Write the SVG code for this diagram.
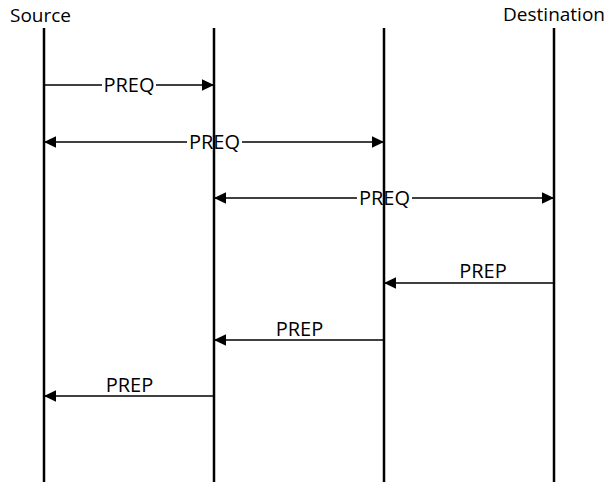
<svg xmlns="http://www.w3.org/2000/svg" width="611" height="482" viewBox="0 0 611 482">
<style>
.life{stroke:#000;stroke-width:2.5;fill:none}
.msg{stroke:#000;stroke-width:1.3;fill:none}
.hdr{font-family:"Open Sans","Liberation Sans",sans-serif;font-size:19px;fill:#000}
.lbl{font-family:"Open Sans","Liberation Sans",sans-serif;font-size:20px;fill:#000;text-anchor:middle}
.bg{fill:#fff}
</style>
<defs>
<marker id="ah" markerUnits="userSpaceOnUse" markerWidth="13" markerHeight="12" refX="12" refY="6" orient="auto-start-reverse" viewBox="0 0 13 12">
<path d="M0,0.2 L12,6 L0,11.8 Z" fill="#000"/>
</marker>
</defs>
<rect width="611" height="482" fill="#fff"/>
<g id="connectors">
<g id="m1"><line class="msg" x1="44" y1="85" x2="214" y2="85" marker-end="url(#ah)"/><rect class="bg" x="102" y="74" width="54" height="22"/><text class="lbl" x="129" y="92">PREQ</text></g>
<g id="m2"><line class="msg" x1="44" y1="142" x2="384" y2="142" marker-start="url(#ah)" marker-end="url(#ah)"/><rect class="bg" x="187" y="131" width="55" height="22"/><text class="lbl" x="214.5" y="149">PREQ</text></g>
<g id="m3"><line class="msg" x1="214" y1="198" x2="554" y2="198" marker-start="url(#ah)" marker-end="url(#ah)"/><rect class="bg" x="357" y="187" width="55" height="22"/><text class="lbl" x="384.5" y="205">PREQ</text></g>
<g id="m4"><line class="msg" x1="554" y1="283" x2="384" y2="283" marker-end="url(#ah)"/><text class="lbl" x="483" y="278">PREP</text></g>
<g id="m5"><line class="msg" x1="384" y1="340" x2="214" y2="340" marker-end="url(#ah)"/><text class="lbl" x="299.5" y="335.5">PREP</text></g>
<g id="m6"><line class="msg" x1="214" y1="396" x2="44" y2="396" marker-end="url(#ah)"/><text class="lbl" x="129.5" y="391.5">PREP</text></g>
</g>
<g id="source"><text class="hdr" x="10" y="22">Source</text><line class="life" x1="44" y1="28" x2="44" y2="482"/></g>
<g id="relay1"><line class="life" x1="214" y1="28" x2="214" y2="482"/></g>
<g id="relay2"><line class="life" x1="384" y1="28" x2="384" y2="482"/></g>
<g id="destination"><text class="hdr" x="605" y="21" text-anchor="end">Destination</text><line class="life" x1="554" y1="28" x2="554" y2="482"/></g>
</svg>
